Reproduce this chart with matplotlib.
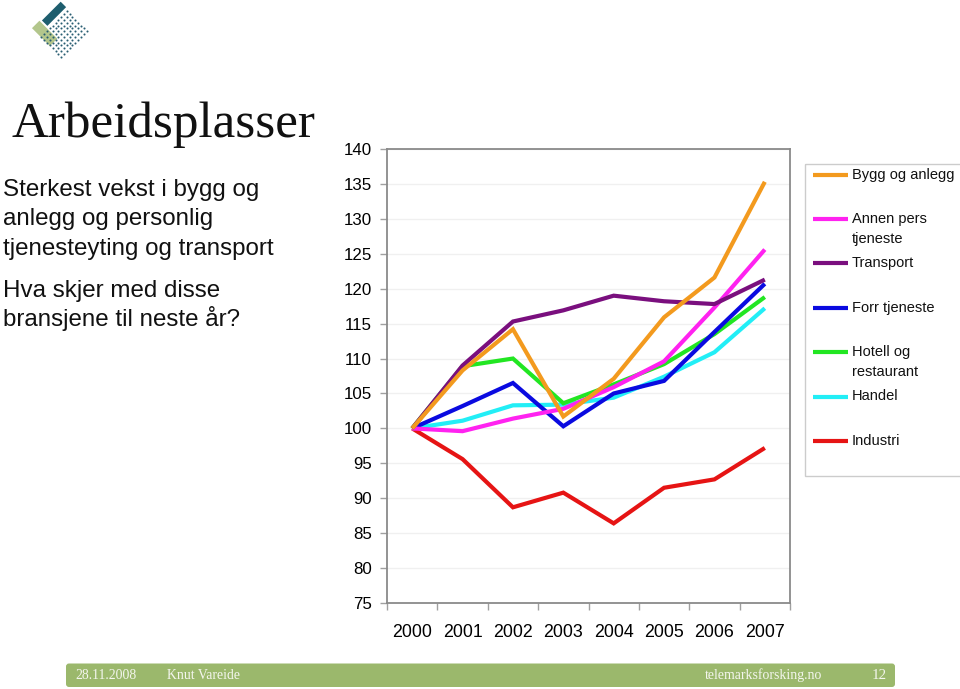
import numpy as np
import matplotlib
matplotlib.use("Agg")
import matplotlib.pyplot as plt
from matplotlib.patches import Rectangle, FancyBboxPatch, Polygon

# ---------------- data ----------------
years = ["2000", "2001", "2002", "2003", "2004", "2005", "2006", "2007"]
bygg = [100, 108.3, 114.2, 101.7, 107.1, 115.9, 121.6, 135.3]
annen = [100, 99.6, 101.4, 102.8, 105.9, 109.6, 117.3, 125.6]
transport = [100, 109.0, 115.3, 116.9, 119.0, 118.2, 117.8, 121.3]
forr = [100, 103.2, 106.5, 100.3, 105.0, 106.8, 113.8, 120.7]
hotell = [100, 108.9, 110.0, 103.6, 106.3, 109.2, 113.5, 118.8]
handel = [100, 101.1, 103.3, 103.4, 104.4, 107.4, 110.9, 117.2]
industri = [100, 95.6, 88.7, 90.8, 86.4, 91.5, 92.7, 97.2]

series_names = ["Bygg og anlegg", "Annen pers\ntjeneste", "Transport", "Forr tjeneste",
                "Hotell og\nrestaurant", "Handel", "Industri"]
series_values = [bygg, annen, transport, forr, hotell, handel, industri]
series_colors = ["#F39A1E", "#FF22F0", "#7A0F7E", "#0A0AE0", "#22E622", "#22EEF6", "#E61414"]
yticks = [75, 80, 85, 90, 95, 100, 105, 110, 115, 120, 125, 130, 135, 140]

W, H = 960, 689
fig = plt.figure(figsize=(W / 100, H / 100), dpi=100)
fig.patch.set_facecolor("white")

# overlay axes in pixel coordinates
ov = fig.add_axes([0, 0, 1, 1], zorder=0)
ov.set_xlim(0, W)
ov.set_ylim(H, 0)
ov.axis("off")

# ---------------- main chart ----------------
ax = fig.add_axes([387 / W, 1 - 603 / H, (790 - 387) / W, (603 - 149) / H], zorder=2)
x = np.arange(len(years))
order = [6, 5, 4, 3, 1, 2, 0]
for i in order:
    ax.plot(x, series_values[i], color=series_colors[i], lw=3.0, solid_joinstyle="miter",
            solid_capstyle="butt", zorder=3)
ax.set_xlim(-0.5, len(years) - 0.5)
ax.set_ylim(75, 140)
ax.set_yticks(yticks)
ax.set_yticklabels([str(v) for v in yticks])
ax.set_xticks(x)
ax.set_xticklabels(years)
ax.set_xticks(np.arange(-0.5, len(years)), minor=True)
ax.tick_params(axis="x", which="major", length=0, pad=15, labelsize=12.8)
ax.tick_params(axis="x", which="minor", length=5, color="#a0a0a0", width=1)
ax.tick_params(axis="y", which="major", length=5, color="#a0a0a0", width=1, pad=6, labelsize=12.2)
for lab in ax.get_xticklabels() + ax.get_yticklabels():
    lab.set_fontfamily("Liberation Sans")
ax.grid(axis="y", color="#f0f0f0", lw=1)
ax.set_axisbelow(True)
for sp in ax.spines.values():
    sp.set_color("#8a8a8a")
    sp.set_linewidth(1.3)

# ---------------- legend (manual) ----------------
ov.add_patch(Rectangle((804.5, 163.5), 160, 312, fill=False, edgecolor="#cccccc", lw=1))
leg_y0, leg_dy = 174.5, 44.4
for k, (name, col) in enumerate(zip(series_names, series_colors)):
    yy = leg_y0 + k * leg_dy
    ov.plot([813, 848], [yy, yy], color=col, lw=3.0, solid_capstyle="butt")
    for j, part in enumerate(name.split("\n")):
        ov.text(852, yy + j * 20, part, fontsize=10.5, family="Liberation Sans",
                va="center", ha="left", color="#111111")

# ---------------- left texts ----------------
ov.text(11, 137, "Arbeidsplasser", fontsize=36.8, family="Liberation Serif",
        va="baseline", ha="left", color="#111111")
sub_lines = ["Sterkest vekst i bygg og", "anlegg og personlig", "tjenesteyting og transport"]
for k, t in enumerate(sub_lines):
    ov.text(3, 196 + k * 29.3, t, fontsize=17.4, family="Liberation Sans",
            va="baseline", ha="left", color="#111111")
q_lines = ["Hva skjer med disse", "bransjene til neste år?"]
for k, t in enumerate(q_lines):
    ov.text(3, 297 + k * 29.3, t, fontsize=17.4, family="Liberation Sans",
            va="baseline", ha="left", color="#111111")

# ---------------- footer ----------------
ov.add_patch(FancyBboxPatch((66, 663.5), 829, 23.5, boxstyle="round,pad=0,rounding_size=3",
                            facecolor="#9BB86C", edgecolor="none"))
ftc = "#F4F6EE"
ov.text(75, 675.5, "28.11.2008", fontsize=9.9, family="Liberation Serif", va="center", ha="left", color=ftc)
ov.text(167, 675.5, "Knut Vareide", fontsize=9.9, family="Liberation Serif", va="center", ha="left", color=ftc)
ov.text(822, 675.5, "telemarksforsking.no", fontsize=9.9, family="Liberation Serif", va="center", ha="right", color=ftc)
ov.text(879, 675.5, "12", fontsize=10.8, family="Liberation Serif", va="center", ha="center", color=ftc)

# ---------------- logo ----------------
O = np.array([64.0, 1.5])
eu = np.array([-1.0, 1.0]) / np.sqrt(2)
ev = np.array([1.0, 1.0]) / np.sqrt(2)


def uv(u, v):
    return O + u * eu + v * ev


def rect_uv(u0, u1, v0, v1):
    return [uv(u0, v0), uv(u0, v1), uv(u1, v1), uv(u1, v0)]


ov.add_patch(Polygon(rect_uv(2.5, 29.0, -2.2, 5.5), closed=True, facecolor="#1E5E6E", edgecolor="none"))
ov.add_patch(Polygon(rect_uv(31.0, 41.5, -3.8, 21.5), closed=True, facecolor="#B3C68C", edgecolor="none"))
pts = []
for uu in np.arange(5, 44, 4.0):
    for vv in np.arange(9, 38, 4.0):
        pts.append(uv(uu, vv))
pts = np.array(pts)
ov.scatter(pts[:, 0], pts[:, 1], s=2.2, color="#2A5E72", linewidths=0)

fig.savefig("out.png", dpi=100)
